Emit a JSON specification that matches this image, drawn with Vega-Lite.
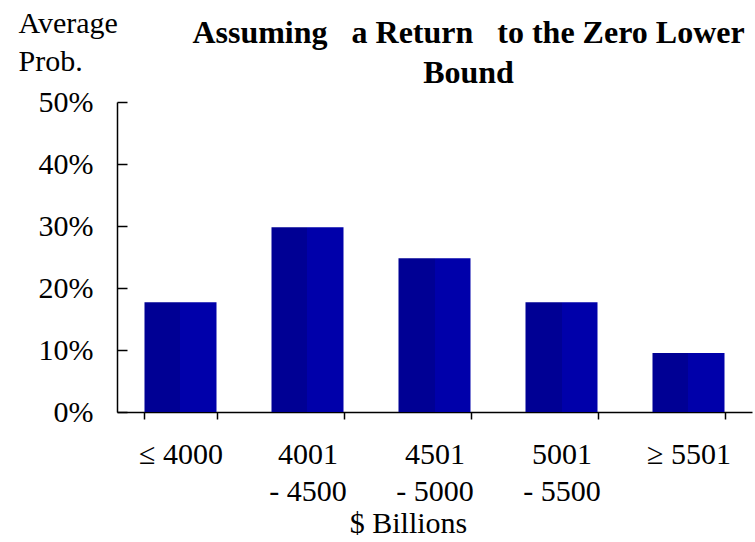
{
  "$schema": "https://vega.github.io/schema/vega-lite/v6.json",
  "width": 635,
  "height": 310,
  "autosize": "none",
  "padding": {"left": 117, "top": 102, "right": 3, "bottom": 130},
  "background": "white",
  "config": {"view": {"stroke": null}, "font": "Liberation Serif"},
  "title": {
    "text": ["Assuming\u00a0\u00a0 a Return\u00a0\u00a0 to the  Zero  Lower", "Bound"],
    "font": "Liberation Serif",
    "fontSize": 32,
    "fontWeight": "bold",
    "color": "black",
    "anchor": "middle",
    "dx": 34,
    "dy": 92,
    "offset": 10,
    "lineHeight": 40
  },
  "data": {
    "values": [
      {"range": "≤ 4000", "prob": 0.177},
      {"range": "4001|- 4500", "prob": 0.298},
      {"range": "4501|- 5000", "prob": 0.248},
      {"range": "5001|- 5500", "prob": 0.177},
      {"range": "≥ 5501", "prob": 0.095}
    ]
  },
  "mark": {
    "type": "bar",
    "color": {
      "gradient": "linear",
      "x1": 0, "x2": 1, "y1": 0, "y2": 0,
      "stops": [
        {"offset": 0, "color": "#000094"},
        {"offset": 0.5, "color": "#000094"},
        {"offset": 0.5, "color": "#0000AA"},
        {"offset": 1, "color": "#0000AA"}
      ]
    }
  },
  "encoding": {
    "x": {
      "field": "range",
      "type": "nominal",
      "sort": null,
      "scale": {"paddingInner": 0.433, "paddingOuter": 0.2165},
      "axis": {
        "title": "$ Billions",
        "titleFont": "Liberation Serif",
        "titleFontSize": 30,
        "titleFontWeight": "normal",
        "titleColor": "black",
        "titleX": 291,
        "titleY": 111,
        "titleBaseline": "middle",
        "labelAngle": 0,
        "labelExpr": "split(datum.label, '|')",
        "labelFont": "Liberation Serif",
        "labelFontSize": 30,
        "labelColor": "black",
        "labelLineHeight": 37,
        "labelPadding": 20,
        "labelBaseline": "top",
        "tickBand": "extent",
        "tickSize": 7,
        "tickColor": "black",
        "domainColor": "black",
        "domainWidth": 1.5,
        "tickWidth": 1.5,
        "grid": false
      }
    },
    "y": {
      "field": "prob",
      "type": "quantitative",
      "scale": {"domain": [0, 0.5], "nice": false},
      "axis": {
        "title": ["Average", "Prob."],
        "titleAngle": 0,
        "titleAlign": "left",
        "titleBaseline": "top",
        "titleX": -99,
        "titleY": -94,
        "titleFont": "Liberation Serif",
        "titleFontSize": 30,
        "titleFontWeight": "normal",
        "titleColor": "black",
        "titleLineHeight": 38,
        "values": [0, 0.1, 0.2, 0.3, 0.4, 0.5],
        "format": ".0%",
        "labelFont": "Liberation Serif",
        "labelFontSize": 30,
        "labelColor": "black",
        "labelPadding": 34,
        "tickSize": -10,
        "tickColor": "black",
        "domainColor": "black",
        "domainWidth": 1.5,
        "tickWidth": 1.5,
        "grid": false
      }
    }
  }
}
